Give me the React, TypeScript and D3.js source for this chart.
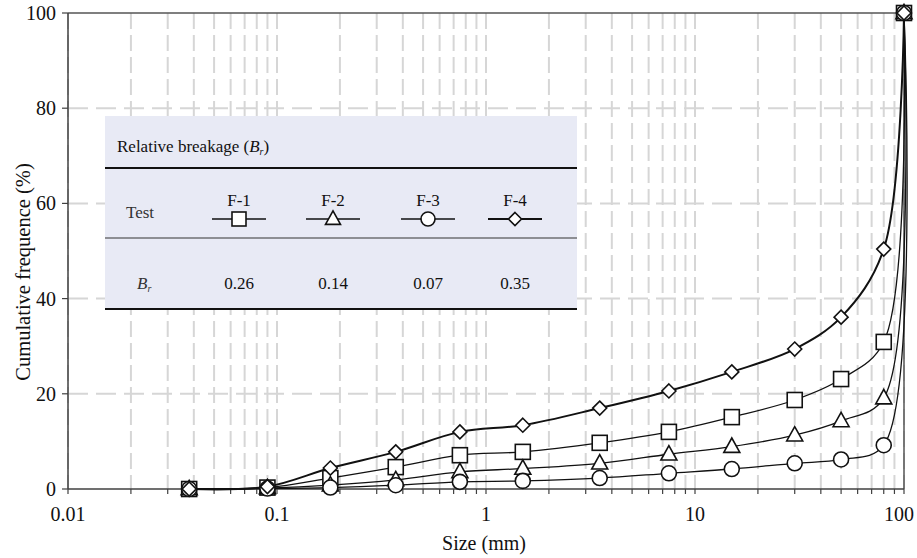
import React from "react";
import * as d3 from "d3";

const sizes = [0.038, 0.09, 0.18, 0.37, 0.75, 1.5, 3.5, 7.5, 15, 30, 50, 80, 100];
const f1 = [0, 0.3, 2.3, 4.6, 7.1, 7.8, 9.7, 12.0, 15.1, 18.7, 23.1, 30.9, 100];
const f2 = [0, 0.2, 0.8, 1.9, 3.6, 4.3, 5.4, 7.3, 8.9, 11.3, 14.3, 19.1, 100];
const f3 = [0, 0.1, 0.3, 0.8, 1.5, 1.7, 2.3, 3.3, 4.2, 5.4, 6.2, 9.2, 100];
const f4 = [0, 0.5, 4.4, 7.8, 12.0, 13.4, 17.0, 20.6, 24.6, 29.4, 36.1, 50.4, 100];
const testNames = ["F-1", "F-2", "F-3", "F-4"];
const brValues = ["0.26", "0.14", "0.07", "0.35"];
const yTicks = [0, 20, 40, 60, 80, 100];
const xTickLabels = [0.01, 0.1, 1, 10, 100];

const FONT = "'Liberation Serif', 'Times New Roman', serif";

function Marker({ type, x, y, s = 16 }: { type: string; x: number; y: number; s?: number }) {
  const common = { fill: "white", stroke: "#111", strokeWidth: 1.6 };
  if (type === "square")
    return <rect x={x - s / 2 + 0.5} y={y - s / 2 + 0.5} width={s - 1} height={s - 1} {...common} />;
  if (type === "triangle") {
    const h = s * 0.9;
    return (
      <path d={`M${x},${y - h * 0.6}L${x + s / 2},${y + h * 0.4}L${x - s / 2},${y + h * 0.4}Z`} {...common} />
    );
  }
  if (type === "circle") return <circle cx={x} cy={y} r={s / 2 - 0.5} {...common} />;
  const r = s / 2 - 1;
  return <path d={`M${x},${y - r}L${x + r},${y}L${x},${y + r}L${x - r},${y}Z`} {...common} />;
}

export default function App() {
  const W = 917, H = 558;
  const x = d3.scaleLog().domain([0.01, 100]).range([68, 904]);
  const y = d3.scaleLinear().domain([0, 100]).range([489, 13]);
  const gridX: number[] = [];
  for (let e = -2; e < 2; e++) for (let m = 1; m <= 9; m++) gridX.push(m * Math.pow(10, e));
  gridX.push(100);

  const series = [
    { data: f1, type: "square", w: 1.3 },
    { data: f2, type: "triangle", w: 1.3 },
    { data: f3, type: "circle", w: 1.3 },
    { data: f4, type: "diamond", w: 2.0 },
  ];
  const line = d3
    .line<number>()
    .x((_, i) => x(sizes[i]))
    .y((d) => y(d))
    .curve(d3.curveCatmullRom.alpha(0.5));

  const tableX0 = 105, tableX1 = 577, tableY0 = 116, tableY1 = 309;
  const colX = [239, 333, 428, 515];

  return (
    <svg width={W} height={H} style={{ position: "absolute", left: 0, top: 0, background: "white" }}>
      <rect width={W} height={H} fill="white" />
      {/* grid */}
      {gridX.map((g, i) => (
        <line key={"gx" + i} x1={x(g)} x2={x(g)} y1={y(100)} y2={y(0)} stroke="#d6d6d6" strokeWidth={2} strokeDasharray="16,6" />
      ))}
      {yTicks.slice(1, 5).map((t) => (
        <line key={"gy" + t} x1={x(0.01)} x2={x(100)} y1={y(t)} y2={y(t)} stroke="#d6d6d6" strokeWidth={2} strokeDasharray="20,8" />
      ))}
      {/* frame */}
      <line x1={x(0.01)} x2={x(100)} y1={y(100)} y2={y(100)} stroke="#555" strokeWidth={1.5} />
      <line x1={x(100)} x2={x(100)} y1={y(100)} y2={y(0)} stroke="#555" strokeWidth={1.5} />
      <line x1={x(0.01)} x2={x(0.01)} y1={y(100)} y2={y(0)} stroke="#404040" strokeWidth={1.5} />
      <line x1={x(0.01)} x2={x(100)} y1={y(0)} y2={y(0)} stroke="#404040" strokeWidth={1.5} />
      {/* x ticks */}
      {gridX.map((g, i) => (
        <line key={"tx" + i} x1={x(g)} x2={x(g)} y1={y(0)} y2={y(0) + 5} stroke="#404040" strokeWidth={1.2} />
      ))}
      {xTickLabels.map((t, i) => {
        const last = i === xTickLabels.length - 1;
        return (
          <text
            key={"xl" + t}
            x={last ? 914 : x(t)}
            y={521}
            textAnchor={last ? "end" : "middle"}
            fontFamily={FONT}
            fontSize={20}
            fill="#111"
          >
            {t}
          </text>
        );
      })}
      {/* y ticks */}
      {yTicks.map((t) => (
        <g key={"yt" + t}>
          <line x1={x(0.01) - 6} x2={x(0.01)} y1={y(t)} y2={y(t)} stroke="#404040" strokeWidth={1.2} />
          <text x={56} y={y(t) + 7} textAnchor="end" fontFamily={FONT} fontSize={20} fill="#111">
            {t}
          </text>
        </g>
      ))}
      <text x={484} y={550} textAnchor="middle" fontFamily={FONT} fontSize={20} fill="#111">
        Size (mm)
      </text>
      <text
        transform={`translate(30,272) rotate(-90)`}
        textAnchor="middle"
        fontFamily={FONT}
        fontSize={20.5}
        fill="#111"
      >
        Cumulative frequence (%)
      </text>

      {/* table */}
      <rect x={tableX0} y={tableY0} width={tableX1 - tableX0} height={tableY1 - tableY0} fill="#e8eaf5" />
      <line x1={tableX0} x2={tableX1} y1={168} y2={168} stroke="#111" strokeWidth={2} />
      <line x1={tableX0} x2={tableX1} y1={238} y2={238} stroke="#333" strokeWidth={1.2} />
      <line x1={tableX0} x2={tableX1} y1={tableY1} y2={tableY1} stroke="#111" strokeWidth={2} />
      <text x={117} y={152} fontFamily={FONT} fontSize={17} fill="#111">
        Relative breakage (<tspan fontStyle="italic">B</tspan>
        <tspan fontStyle="italic" fontSize={10} dy={3}>r</tspan>
        <tspan dy={-3}>)</tspan>
      </text>
      <text x={126} y={218} fontFamily={FONT} fontSize={17} fill="#333">
        Test
      </text>
      <text x={137} y={289} fontFamily={FONT} fontSize={17} fill="#333" fontStyle="italic">
        B<tspan fontSize={10} dy={3}>r</tspan>
      </text>
      {testNames.map((n, i) => (
        <g key={n}>
          <text x={colX[i]} y={206} textAnchor="middle" fontFamily={FONT} fontSize={17} fill="#111">
            {n}
          </text>
          <line x1={colX[i] - 27} x2={colX[i] + 27} y1={219} y2={219} stroke="#111" strokeWidth={i === 3 ? 2 : 1.4} />
          <Marker type={series[i].type} x={colX[i]} y={219} s={15} />
          <text x={colX[i]} y={289} textAnchor="middle" fontFamily={FONT} fontSize={17} fill="#111">
            {brValues[i]}
          </text>
        </g>
      ))}

      {/* curves */}
      {series.map((s, k) => (
        <path key={"l" + k} d={line(s.data) || ""} fill="none" stroke="#111" strokeWidth={s.w} />
      ))}
      {series.map((s, k) =>
        s.data.map((v, i) => <Marker key={`m${k}-${i}`} type={s.type} x={x(sizes[i])} y={y(v)} s={16} />)
      )}
    </svg>
  );
}
